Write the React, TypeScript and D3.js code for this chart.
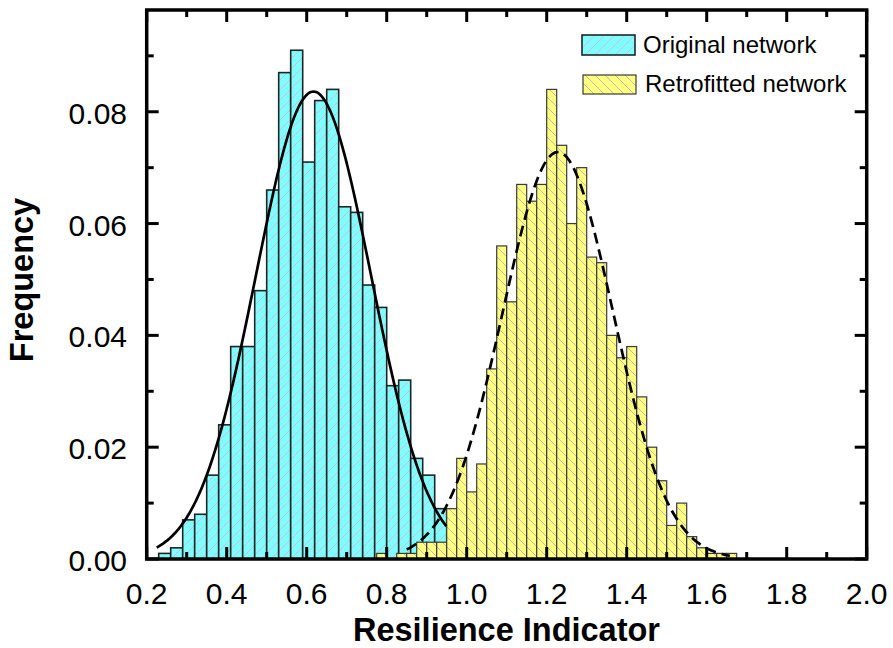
import React from "react";
import * as d3 from "d3";

// ---- data ----
const originalBinStart = 0.23;
const originalBinWidth = 0.03;
const originalFreq = [
  0.001, 0.002, 0.007, 0.008, 0.015, 0.024, 0.038, 0.038, 0.048, 0.066, 0.087, 0.091,
  0.071, 0.082, 0.084, 0.063, 0.062, 0.049, 0.045, 0.031, 0.032, 0.018, 0.015, 0.009,
];

const retroBinStart = 0.775;
const retroBinWidth = 0.025;
const retroFreq = [
  0.001, 0, 0.001, 0.001, 0.003, 0.003, 0.003, 0.009, 0.018, 0.012, 0.017, 0.034,
  0.056, 0.046, 0.067, 0.064, 0.067, 0.084, 0.074, 0.06, 0.07, 0.054, 0.053, 0.04,
  0.036, 0.038, 0.029, 0.02, 0.014, 0.006, 0.01, 0.004, 0.002, 0.001, 0.001, 0.001,
];

// normal fits (mean, sd, peak height, drawn range)
const originalFit = { mean: 0.617, sd: 0.144, peak: 0.0836, from: 0.225, to: 0.95 };
const retroFit = { mean: 1.228, sd: 0.138, peak: 0.0728, from: 0.85, to: 1.66 };

const xMajorTicks = [0.2, 0.4, 0.6, 0.8, 1.0, 1.2, 1.4, 1.6, 1.8, 2.0];
const xMinorTicks = [0.3, 0.5, 0.7, 0.9, 1.1, 1.3, 1.5, 1.7, 1.9];
const yMajorTicks = [0, 0.02, 0.04, 0.06, 0.08];
const yMinorTicks = [0.01, 0.03, 0.05, 0.07, 0.09];

const legendLabels = ["Original network", "Retrofitted network"];
const xTitle = "Resilience Indicator";
const yTitle = "Frequency";

const W = 893;
const H = 648;
const L = 146.7;
const R = 866.7;
const T = 10;
const B = 559;
const Y_MAX = 0.0982;

const FONT = "'Liberation Sans', Arial, Helvetica, sans-serif";

export default function App() {
  const x = d3.scaleLinear().domain([0.2, 2.0]).range([L, R]);
  const y = d3.scaleLinear().domain([0, Y_MAX]).range([B, T]);

  const fitPath = (f: typeof originalFit) => {
    const xs = d3.range(f.from, f.to + 1e-9, 0.004);
    const line = d3
      .line<number>()
      .x((v) => x(v))
      .y((v) => y(f.peak * Math.exp(-((v - f.mean) ** 2) / (2 * f.sd * f.sd))))
      .curve(d3.curveMonotoneX);
    return line(xs) || "";
  };

  const majorLen = 12;
  const minorLen = 7;
  const tickStyle = { stroke: "#000", strokeWidth: 3 };

  return (
    <svg
      width={W}
      height={H}
      style={{ position: "absolute", left: 0, top: 0, background: "#fff" }}
      fontFamily={FONT}
    >
      <defs>
        <pattern id="hatchCyan" patternUnits="userSpaceOnUse" width="10" height="10">
          <rect width="10" height="10" fill="#80FFFF" />
          <path
            d="M-2,2 L2,-2 M0,10 L10,0 M8,12 L12,8"
            stroke="#cdbfd3"
            strokeWidth="1"
          />
        </pattern>
        <pattern id="hatchYellow" patternUnits="userSpaceOnUse" width="10" height="10">
          <rect width="10" height="10" fill="#FFFF80" />
          <path
            d="M-2,8 L2,12 M0,0 L10,10 M8,-2 L12,2"
            stroke="#bcbcb4"
            strokeWidth="1"
          />
        </pattern>
      </defs>

      {/* original network bars */}
      <g>
        {originalFreq.map((v, i) => {
          const x0 = originalBinStart + i * originalBinWidth;
          return (
            <rect
              key={"o" + i}
              x={x(x0)}
              y={y(v)}
              width={x(x0 + originalBinWidth) - x(x0)}
              height={B - y(v)}
              fill="url(#hatchCyan)"
              stroke="#1c2626"
              strokeWidth={1.6}
            />
          );
        })}
      </g>

      {/* retrofitted network bars */}
      <g>
        {retroFreq.map((v, i) => {
          if (v <= 0) return null;
          const x0 = retroBinStart + i * retroBinWidth;
          return (
            <rect
              key={"r" + i}
              x={x(x0)}
              y={y(v)}
              width={x(x0 + retroBinWidth) - x(x0)}
              height={B - y(v)}
              fill="url(#hatchYellow)"
              stroke="#3a3a3a"
              strokeWidth={1.2}
            />
          );
        })}
      </g>

      {/* fit curves */}
      <path d={fitPath(originalFit)} fill="none" stroke="#000" strokeWidth={2.7} />
      <path
        d={fitPath(retroFit)}
        fill="none"
        stroke="#000"
        strokeWidth={2.7}
        strokeDasharray="11,6"
      />

      {/* ticks: bottom & top */}
      {xMajorTicks.map((t) => (
        <g key={"xM" + t}>
          <line x1={x(t)} x2={x(t)} y1={B} y2={B - majorLen} style={tickStyle} />
          <line x1={x(t)} x2={x(t)} y1={T} y2={T + majorLen} style={tickStyle} />
        </g>
      ))}
      {xMinorTicks.map((t) => (
        <g key={"xm" + t}>
          <line x1={x(t)} x2={x(t)} y1={B} y2={B - minorLen} style={tickStyle} />
          <line x1={x(t)} x2={x(t)} y1={T} y2={T + minorLen} style={tickStyle} />
        </g>
      ))}
      {/* ticks: left & right */}
      {yMajorTicks.map((t) => (
        <g key={"yM" + t}>
          <line x1={L} x2={L + majorLen} y1={y(t)} y2={y(t)} style={tickStyle} />
          <line x1={R} x2={R - majorLen} y1={y(t)} y2={y(t)} style={tickStyle} />
        </g>
      ))}
      {yMinorTicks.map((t) => (
        <g key={"ym" + t}>
          <line x1={L} x2={L + minorLen} y1={y(t)} y2={y(t)} style={tickStyle} />
          <line x1={R} x2={R - minorLen} y1={y(t)} y2={y(t)} style={tickStyle} />
        </g>
      ))}

      {/* frame */}
      <rect
        x={L}
        y={T}
        width={R - L}
        height={B - T}
        fill="none"
        stroke="#000"
        strokeWidth={3.5}
      />

      {/* tick labels */}
      {xMajorTicks.map((t) => (
        <text
          key={"xl" + t}
          x={x(t)}
          y={604}
          textAnchor="middle"
          fontSize={30}
          fill="#000"
        >
          {d3.format(".1f")(t)}
        </text>
      ))}
      {yMajorTicks.map((t) => (
        <text
          key={"yl" + t}
          x={127}
          y={y(t) + 12}
          textAnchor="end"
          fontSize={30}
          fill="#000"
        >
          {d3.format(".2f")(t)}
        </text>
      ))}

      {/* axis titles */}
      <text
        x={506.5}
        y={641}
        textAnchor="middle"
        fontSize={32.5}
        fontWeight="bold"
        fill="#000"
      >
        {xTitle}
      </text>
      <text
        transform={`translate(33,280) rotate(-90)`}
        textAnchor="middle"
        fontSize={32.5}
        fontWeight="bold"
        fill="#000"
      >
        {yTitle}
      </text>

      {/* legend */}
      <rect
        x={582}
        y={35}
        width={53}
        height={20}
        fill="url(#hatchCyan)"
        stroke="#1c2626"
        strokeWidth={1.6}
      />
      <text x={643} y={52.7} fontSize={24} fill="#000">
        {legendLabels[0]}
      </text>
      <rect
        x={583}
        y={75}
        width={53}
        height={19}
        fill="url(#hatchYellow)"
        stroke="#3a3a3a"
        strokeWidth={1.2}
      />
      <text x={645} y={91.7} fontSize={24} fill="#000">
        {legendLabels[1]}
      </text>
    </svg>
  );
}
